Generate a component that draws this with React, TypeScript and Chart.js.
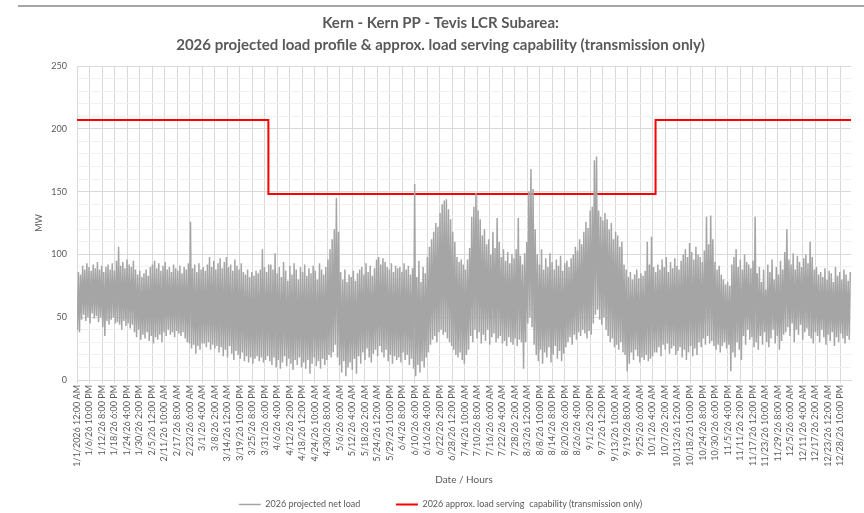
import React, { useEffect, useRef } from 'react';
import { Chart, registerables } from 'chart.js';

Chart.register(...registerables);

const titleLines = [
  'Kern - Kern PP - Tevis LCR Subarea:',
  '2026 projected load profile & approx. load serving capability (transmission only)',
];

const xLabels = [
  '1/1/2026 12:00 AM', '1/6/26 10:00 PM', '1/12/26 8:00 PM', '1/18/26 6:00 PM', '1/24/26 4:00 PM',
  '1/30/26 2:00 PM', '2/5/26 12:00 PM', '2/11/26 10:00 AM', '2/17/26 8:00 AM', '2/23/26 6:00 AM',
  '3/1/26 4:00 AM', '3/8/26 2:00 AM', '3/14/26 12:00 AM', '3/19/26 10:00 PM', '3/25/26 8:00 PM',
  '3/31/26 6:00 PM', '4/6/26 4:00 PM', '4/12/26 2:00 PM', '4/18/26 12:00 PM', '4/24/26 10:00 AM',
  '4/30/26 8:00 AM', '5/6/26 6:00 AM', '5/12/26 4:00 AM', '5/18/26 2:00 AM', '5/24/26 12:00 AM',
  '5/29/26 10:00 PM', '6/4/26 8:00 PM', '6/10/26 6:00 PM', '6/16/26 4:00 PM', '6/22/26 2:00 PM',
  '6/28/26 12:00 PM', '7/4/26 10:00 AM', '7/10/26 8:00 AM', '7/16/26 6:00 AM', '7/22/26 4:00 AM',
  '7/28/26 2:00 AM', '8/3/26 12:00 AM', '8/8/26 10:00 PM', '8/14/26 8:00 PM', '8/20/26 6:00 PM',
  '8/26/26 4:00 PM', '9/1/26 2:00 PM', '9/7/26 12:00 PM', '9/13/26 10:00 AM', '9/19/26 8:00 AM',
  '9/25/26 6:00 AM', '10/1/26 4:00 AM', '10/7/26 2:00 AM', '10/13/26 12:00 AM', '10/18/26 10:00 PM',
  '10/24/26 8:00 PM', '10/30/26 6:00 PM', '11/5/26 4:00 PM', '11/11/26 2:00 PM', '11/17/26 12:00 PM',
  '11/23/26 10:00 AM', '11/29/26 8:00 AM', '12/5/26 6:00 AM', '12/11/26 4:00 AM', '12/17/26 2:00 AM',
  '12/23/26 12:00 AM', '12/28/26 10:00 PM',
];
const labelStepHours = 142;
const totalHours = 8784;

// Daily peak / minimum net load (MW)
const janHigh = [86, 84, 91, 88, 93, 90, 87, 92, 89, 94, 88, 91, 86, 90, 92, 88, 93, 87, 95, 106, 91, 94, 89, 96, 92, 90, 95, 88, 84, 87, 82];
const janLow = [40, 38, 48, 52, 47, 50, 45, 53, 49, 51, 46, 50, 42, 35, 47, 44, 48, 50, 45, 46, 44, 40, 47, 43, 45, 41, 44, 38, 34, 40, 32];
const febHigh = [85, 88, 83, 90, 92, 95, 89, 93, 87, 91, 94, 88, 90, 86, 92, 89, 87, 91, 85, 90, 88, 93, 126, 89, 92, 86, 93, 88, 90];
const febLow = [36, 33, 38, 31, 35, 29, 34, 32, 36, 30, 38, 35, 40, 36, 38, 34, 39, 37, 35, 38, 33, 30, 29, 25, 28, 21, 27, 24, 29];
const marHigh = [87, 92, 98, 90, 95, 88, 93, 97, 89, 94, 98, 90, 92, 87, 96, 91, 88, 93, 86, 84, 88, 82, 86, 83, 87, 85, 88, 104, 90, 86, 92];
const marLow = [29, 26, 30, 24, 28, 25, 27, 22, 26, 19, 24, 18, 27, 21, 16, 23, 20, 17, 22, 15, 19, 14, 18, 13, 17, 19, 15, 18, 14, 16, 19];
const aprHigh = [92, 88, 101, 85, 90, 82, 94, 87, 79, 91, 84, 93, 88, 80, 90, 86, 92, 83, 89, 85, 91, 87, 80, 93, 88, 84, 90, 96, 104, 112];
const aprLow = [15, 12, 18, 10, 16, 9, 14, 19, 11, 17, 13, 8, 16, 12, 18, 10, 14, 9, 16, 5, 13, 18, 11, 15, 9, 17, 12, 16, 20, 18];
const mayHigh = [120, 145, 118, 86, 80, 88, 78, 84, 82, 87, 79, 85, 88, 90, 84, 93, 86, 91, 83, 89, 96, 98, 92, 97, 94, 90, 88, 93, 86, 91, 89];
const mayLow = [22, 28, 18, 12, 6, 15, 3, 10, 14, 8, 17, 5, 19, 13, 22, 16, 25, 18, 14, 21, 24, 19, 27, 22, 18, 24, 15, 20, 13, 19, 16];
const junHigh = [90, 86, 93, 88, 91, 84, 89, 156, 82, 95, 78, 90, 85, 98, 106, 112, 118, 125, 122, 133, 140, 143, 144, 136, 128, 118, 110, 98, 94, 96];
const junLow = [18, 14, 22, 16, 20, 12, 17, 9, 3, 12, 6, 15, 10, 18, 22, 28, 32, 35, 30, 38, 40, 36, 38, 33, 30, 27, 24, 20, 18, 22];
const julHigh = [92, 88, 96, 105, 130, 138, 149, 135, 128, 115, 120, 108, 112, 100, 118, 105, 129, 110, 98, 104, 95, 102, 93, 100, 97, 104, 129, 99, 92, 101, 110];
const julLow = [16, 13, 20, 24, 35, 30, 40, 33, 38, 29, 36, 31, 40, 28, 34, 37, 30, 33, 35, 29, 31, 27, 34, 30, 28, 33, 27, 32, 30, 9, 30];
const augHigh = [150, 168, 152, 120, 100, 92, 104, 88, 97, 90, 101, 94, 88, 96, 91, 99, 87, 93, 95, 90, 97, 100, 106, 103, 112, 108, 118, 126, 121, 135, 138];
const augLow = [45, 50, 42, 28, 20, 15, 24, 13, 22, 18, 26, 14, 20, 27, 17, 23, 15, 21, 26, 30, 34, 28, 36, 32, 38, 35, 40, 37, 33, 39, 36];
const sepHigh = [175, 178, 135, 130, 127, 133, 128, 120, 125, 112, 118, 115, 106, 110, 92, 88, 82, 86, 80, 84, 88, 81, 85, 83, 87, 110, 92, 114, 90, 86];
const sepLow = [45, 52, 56, 48, 44, 50, 40, 35, 30, 33, 26, 28, 24, 30, 22, 20, 7, 13, 22, 16, 24, 19, 14, 18, 16, 20, 15, 17, 19, 22];
const octHigh = [92, 88, 96, 90, 98, 86, 94, 89, 97, 91, 88, 95, 100, 104, 98, 109, 102, 96, 106, 100, 98, 94, 103, 130, 108, 131, 112, 94, 88, 91, 84];
const octLow = [22, 26, 19, 28, 24, 29, 21, 25, 27, 20, 23, 26, 18, 24, 16, 22, 27, 19, 25, 20, 30, 26, 33, 28, 35, 29, 31, 27, 24, 28, 22];
const novHigh = [80, 76, 78, 75, 92, 98, 104, 90, 96, 88, 100, 94, 92, 89, 95, 130, 85, 90, 78, 88, 72, 92, 86, 96, 80, 90, 84, 95, 88, 102];
const novLow = [27, 30, 25, 28, 7, 22, 18, 30, 24, 16, 35, 28, 40, 32, 34, 26, 30, 24, 35, 28, 38, 30, 26, 33, 40, 29, 35, 24, 31, 36];
const decHigh = [120, 96, 92, 101, 88, 99, 94, 90, 97, 100, 93, 110, 98, 88, 90, 84, 86, 82, 89, 80, 87, 85, 78, 90, 83, 86, 80, 88, 84, 79, 86];
const decLow = [38, 42, 35, 45, 30, 40, 36, 44, 32, 38, 41, 35, 33, 29, 38, 35, 30, 40, 34, 28, 36, 31, 38, 27, 34, 30, 37, 33, 29, 35, 32];

// Load serving capability steps (hour index -> MW)
const capabilityHours = [0, 2172, 6566, 8784];
const capabilityMW = [207, 148, 207, 207];

const seriesNames = ['2026 projected net load', '2026 approx. load serving  capability (transmission only)'];

const dailyHigh = [janHigh, febHigh, marHigh, aprHigh, mayHigh, junHigh, julHigh, augHigh, sepHigh, octHigh, novHigh, decHigh].flat();
const dailyLow = [janLow, febLow, marLow, aprLow, mayLow, junLow, julLow, augLow, sepLow, octLow, novLow, decLow].flat();

const FONT = 'Lato, "Liberation Sans", sans-serif';

export default function App() {
  const ref = useRef<HTMLCanvasElement | null>(null);

  useEffect(() => {
    if (!ref.current) return;
    const loadPoints: { x: number; y: number }[] = [];
    dailyHigh.forEach((hi, d) => {
      loadPoints.push({ x: d * 24 + 4, y: dailyLow[d] });
      loadPoints.push({ x: d * 24 + 16, y: hi });
    });
    const capPoints = capabilityHours.map((h, i) => ({ x: h, y: capabilityMW[i] }));
    const tickHours = xLabels.map((_, i) => i * labelStepHours);

    const chart = new Chart(ref.current, {
      type: 'line',
      data: {
        datasets: [
          {
            label: seriesNames[0],
            data: loadPoints,
            borderColor: '#a5a5a5',
            backgroundColor: '#a5a5a5',
            borderWidth: 1.5,
            pointRadius: 0,
            pointStyle: 'line',
            tension: 0,
          },
          {
            label: seriesNames[1],
            data: capPoints,
            borderColor: '#ff0000',
            backgroundColor: '#ff0000',
            borderWidth: 2,
            pointRadius: 0,
            pointStyle: 'line',
            stepped: 'before',
          },
        ],
      },
      options: {
        animation: false,
        responsive: false,
        events: [],
        parsing: false,
        normalized: true,
        layout: { padding: { left: 30, right: 13, top: 8, bottom: -6 } },
        plugins: {
          title: {
            display: true,
            text: titleLines,
            color: '#595959',
            font: { family: FONT, size: 15, weight: 'bold', lineHeight: 1.4667 },
            padding: { top: 4, bottom: 10 },
          },
          legend: {
            position: 'bottom',
            labels: {
              usePointStyle: true,
              pointStyleWidth: 22,
              color: '#595959',
              font: { family: FONT, size: 9 },
              padding: 8,
              generateLabels: (chart: any) => {
                const items = Chart.defaults.plugins.legend.labels.generateLabels(chart);
                items[0].text = items[0].text + '            ';
                return items;
              },
            },
          },
          tooltip: { enabled: false },
        },
        scales: {
          x: {
            type: 'linear',
            min: 0,
            max: totalHours,
            afterBuildTicks: (scale: any) => {
              scale.ticks = tickHours.map((v) => ({ value: v }));
            },
            afterFit: (scale: any) => {
              scale.height = 112;
            },
            ticks: {
              autoSkip: false,
              minRotation: 90,
              maxRotation: 90,
              color: '#595959',
              font: { family: FONT, size: 9 },
              padding: 2,
              callback: (_v: any, i: number) => xLabels[i],
            },
            grid: { color: '#d9d9d9', tickLength: 3 },
            border: { color: '#d9d9d9' },
            title: {
              display: true,
              text: 'Date / Hours',
              color: '#595959',
              font: { family: FONT, size: 10 },
              padding: { top: 4, bottom: 6 },
            },
          },
          y: {
            min: 0,
            max: 250,
            afterFit: (scale: any) => {
              scale.width = 47;
            },
            ticks: {
              stepSize: 10,
              autoSkip: false,
              color: '#595959',
              font: { family: FONT, size: 9 },
              padding: 10,
              callback: (v: any) => (Number(v) % 50 === 0 ? String(v) : ''),
            },
            grid: {
              drawTicks: false,
              color: (ctx: any) => (ctx.tick && ctx.tick.value % 50 === 0 ? '#d9d9d9' : '#f0f0f0'),
            },
            border: { color: '#d9d9d9' },
            title: {
              display: true,
              text: 'MW',
              color: '#595959',
              font: { family: FONT, size: 9 },
            },
          },
        },
      },
    });
    return () => chart.destroy();
  }, []);

  return (
    <div style={{ position: 'fixed', left: 0, top: 0, width: 864, height: 513, background: '#fff' }}>
      <div style={{ position: 'absolute', left: 18, right: 0, top: 5, borderTop: '2px solid #a6a6a6' }} />
      <canvas ref={ref} width={864} height={513} style={{ display: 'block' }} />
    </div>
  );
}
